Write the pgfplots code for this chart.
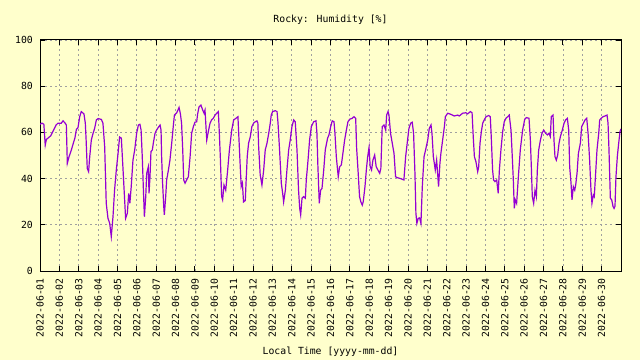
\documentclass[border=0pt]{standalone}
\usepackage{pgfplots}
\pgfplotsset{compat=1.18}
\usepackage{fontspec}
\setmainfont{DejaVu Sans Mono}
\definecolor{bgy}{RGB}{255,255,204}
\definecolor{hum}{RGB}{148,0,211}
\definecolor{gridc}{RGB}{160,160,160}
\begin{document}
\begin{tikzpicture}
\useasboundingbox (0,0) rectangle (640bp,360bp);
\fill[bgy] (0,0) rectangle (640bp,360bp);
\begin{axis}[
  at={(40bp,89bp)}, anchor=south west,
  scale only axis, width=581bp, height=231bp,
  xmin=0, xmax=30, ymin=0, ymax=100,
  axis line style={black, line width=1bp},
  every tick/.style={black, line width=0.9bp},
  major tick length=5bp,
  xtick={0,1,...,29},
  xticklabels={2022-06-01,2022-06-02,2022-06-03,2022-06-04,2022-06-05,2022-06-06,2022-06-07,2022-06-08,2022-06-09,2022-06-10,2022-06-11,2022-06-12,2022-06-13,2022-06-14,2022-06-15,2022-06-16,2022-06-17,2022-06-18,2022-06-19,2022-06-20,2022-06-21,2022-06-22,2022-06-23,2022-06-24,2022-06-25,2022-06-26,2022-06-27,2022-06-28,2022-06-29,2022-06-30},
  ytick={0,20,...,100},
  /pgf/number format/assume math mode=true,
  tick label style={font=\fontsize{9.8bp}{12bp}\selectfont},
  xticklabel style={rotate=90, anchor=east, inner sep=0pt},
  yticklabel style={anchor=east, inner sep=0pt},
  xticklabel shift=7bp, yticklabel shift=7bp,
  grid=major,
  major grid style={gridc, line width=0.8bp, dash pattern=on 2bp off 3bp},
  axis background/.style={fill=bgy},
  clip=true,
]
\addplot[hum, line width=1.2bp] table {
x y
0.00 63.5
0.10 64.0
0.20 63.5
0.27 54.5
0.33 57.0
0.41 57.5
0.55 58.5
0.72 61.3
0.83 63.2
0.93 64.0
1.10 64.0
1.19 65.0
1.30 64.0
1.36 63.2
1.41 46.6
1.50 49.5
1.62 52.4
1.72 55.3
1.80 57.5
1.88 61.3
1.96 62.0
2.05 66.8
2.13 69.0
2.27 68.0
2.34 64.0
2.38 57.0
2.44 44.4
2.51 43.0
2.56 48.8
2.65 56.7
2.74 59.6
2.82 61.7
2.91 65.4
3.00 66.0
3.17 65.6
3.25 64.0
3.34 53.8
3.42 29.3
3.51 22.8
3.60 20.6
3.68 14.9
3.77 23.6
3.85 35.0
3.94 43.7
4.03 50.9
4.11 58.0
4.20 57.5
4.28 45.1
4.37 30.8
4.42 22.8
4.51 25.0
4.58 33.6
4.64 29.3
4.71 36.5
4.80 48.0
4.89 52.4
4.99 59.6
5.08 63.2
5.16 63.5
5.22 61.0
5.28 49.5
5.34 35.0
5.39 23.5
5.46 32.2
5.51 42.3
5.59 45.0
5.63 33.6
5.68 41.0
5.73 51.7
5.80 52.4
5.85 55.3
5.94 59.6
6.02 61.0
6.11 62.2
6.20 63.2
6.25 61.0
6.28 49.5
6.33 38.0
6.39 27.9
6.42 24.3
6.49 32.2
6.54 39.4
6.63 43.7
6.71 48.0
6.80 55.3
6.88 62.5
6.94 67.5
7.06 68.5
7.18 70.8
7.25 68.0
7.31 64.0
7.37 52.4
7.42 39.4
7.49 38.0
7.57 39.4
7.66 40.8
7.75 49.5
7.83 59.6
7.92 62.5
8.00 64.4
8.09 64.6
8.14 68.0
8.21 71.0
8.31 71.8
8.40 69.7
8.47 68.3
8.52 69.7
8.57 62.5
8.61 56.7
8.69 60.3
8.78 64.0
8.86 65.4
8.95 66.1
9.04 67.5
9.13 68.3
9.21 69.0
9.26 59.6
9.31 49.5
9.38 32.2
9.43 30.8
9.50 37.2
9.59 35.0
9.69 43.7
9.78 52.4
9.90 61.0
10.00 65.4
10.12 66.1
10.22 66.8
10.26 59.6
10.34 45.1
10.39 36.5
10.45 38.0
10.51 29.9
10.60 30.5
10.65 40.3
10.70 49.5
10.77 55.3
10.86 58.2
10.94 62.5
11.03 64.0
11.11 64.6
11.20 65.0
11.25 64.0
11.29 53.8
11.37 41.6
11.46 37.2
11.55 43.7
11.63 52.4
11.72 55.3
11.81 59.6
11.89 64.0
11.94 67.5
12.01 69.0
12.15 69.4
12.24 69.0
12.29 64.0
12.37 52.4
12.46 38.0
12.53 33.6
12.58 29.9
12.67 35.0
12.75 43.7
12.84 52.4
12.92 56.7
13.01 62.5
13.10 65.4
13.18 64.6
13.27 52.4
13.35 35.0
13.41 27.1
13.46 24.3
13.53 31.5
13.61 32.2
13.70 31.5
13.75 39.4
13.84 48.0
13.92 56.7
14.01 62.5
14.13 64.6
14.25 65.0
14.30 59.6
14.35 45.1
14.42 29.3
14.49 35.0
14.56 35.7
14.65 43.7
14.73 52.4
14.85 57.5
14.92 58.9
15.01 62.5
15.09 65.0
15.18 64.6
15.23 59.6
15.30 49.5
15.35 45.1
15.40 40.8
15.47 45.1
15.56 45.9
15.64 50.9
15.73 56.7
15.82 61.0
15.90 64.6
15.99 65.7
16.12 66.1
16.21 66.8
16.30 66.1
16.35 53.1
16.43 42.3
16.50 32.2
16.57 29.9
16.64 28.5
16.69 30.0
16.78 36.5
16.85 43.7
16.92 49.5
16.99 53.5
17.05 45.1
17.12 43.7
17.19 48.0
17.28 50.2
17.36 45.1
17.45 43.7
17.54 42.3
17.60 44.4
17.67 62.5
17.76 63.2
17.85 61.0
17.90 67.5
17.97 69.0
18.02 67.5
18.10 59.6
18.19 55.3
18.28 50.9
18.36 40.8
18.45 40.4
18.62 40.0
18.79 39.4
18.88 49.5
18.96 55.3
19.05 61.7
19.14 64.0
19.22 64.4
19.29 59.6
19.36 42.3
19.41 25.0
19.46 20.6
19.53 22.8
19.60 23.0
19.67 20.6
19.74 36.5
19.83 49.5
19.91 52.4
20.02 56.7
20.10 61.7
20.19 63.2
20.24 59.6
20.31 49.5
20.41 43.7
20.48 48.0
20.53 42.3
20.58 36.5
20.65 46.6
20.70 50.9
20.79 56.7
20.88 62.5
20.93 66.8
21.05 68.3
21.22 67.8
21.39 67.1
21.57 67.5
21.65 67.1
21.82 68.3
21.99 68.5
22.08 68.0
22.22 69.0
22.31 68.5
22.37 58.2
22.43 49.5
22.51 47.3
22.60 43.0
22.65 45.0
22.72 55.3
22.79 60.4
22.86 64.0
22.94 65.4
23.03 66.8
23.17 67.3
23.25 66.8
23.30 58.2
23.37 43.7
23.42 39.4
23.49 38.7
23.58 39.4
23.66 33.6
23.72 43.7
23.80 52.4
23.89 60.4
23.97 64.6
24.06 66.1
24.15 66.8
24.23 67.5
24.32 61.0
24.37 52.4
24.44 39.4
24.49 27.1
24.54 30.8
24.61 29.3
24.70 40.8
24.80 52.4
24.92 61.0
25.03 65.7
25.11 66.4
25.25 66.1
25.32 56.7
25.37 45.1
25.42 32.2
25.49 29.3
25.56 35.0
25.63 32.2
25.68 43.7
25.75 52.4
25.84 56.7
25.92 59.6
26.01 61.0
26.11 59.6
26.20 58.9
26.28 59.6
26.35 58.2
26.40 66.8
26.49 67.5
26.54 56.7
26.59 49.5
26.66 48.0
26.73 50.2
26.80 55.3
26.87 58.2
26.97 61.0
27.06 64.0
27.14 65.4
27.23 66.1
27.30 61.0
27.35 45.1
27.42 38.0
27.47 30.8
27.54 36.5
27.61 35.0
27.66 37.2
27.73 42.3
27.80 50.9
27.90 55.3
27.97 62.5
28.06 64.0
28.14 65.4
28.23 66.1
28.30 59.6
28.38 48.0
28.45 35.0
28.50 29.3
28.57 32.9
28.62 32.2
28.69 42.3
28.76 52.4
28.85 59.6
28.90 65.4
28.98 66.1
29.07 66.8
29.17 67.1
29.28 67.5
29.33 64.0
29.38 52.4
29.45 31.5
29.52 30.8
29.59 27.9
29.64 27.1
29.69 28.0
29.74 40.8
29.81 49.5
29.88 55.3
29.95 60.4
30.00 61.5
};
\end{axis}
\node[font=\fontsize{9.8bp}{12bp}\selectfont] at (330.5bp,340bp) {Rocky: Humidity [\%]};
\node[font=\fontsize{9.8bp}{12bp}\selectfont] at (330.5bp,8bp) {Local Time [yyyy-mm-dd]};
\end{tikzpicture}
\end{document}
